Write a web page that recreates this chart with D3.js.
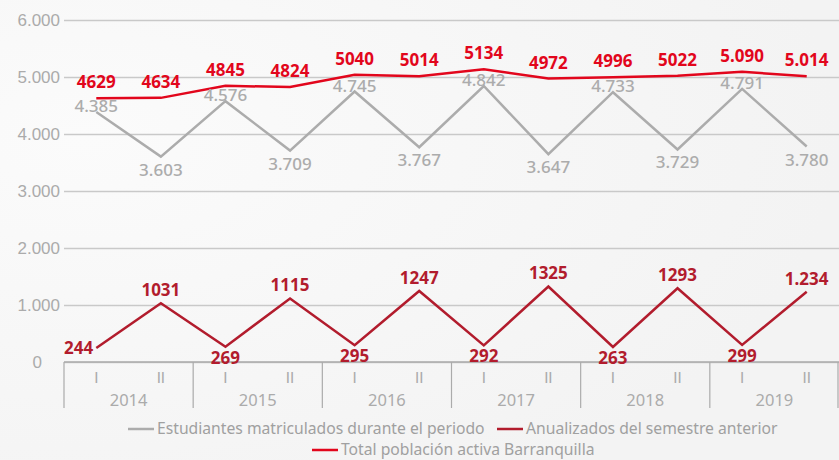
<!DOCTYPE html>
<html>
<head>
<meta charset="utf-8">
<script src="https://cdn.jsdelivr.net/npm/d3@7"></script>
<style>
  body { margin: 0; background: #f4f4f4; }
  svg { display: block; font-family: "Noto Sans", sans-serif; }
</style>
</head>
<body>
<svg class="chart" width="839" height="460"></svg>
<script>
const years = ['2014', '2015', '2016', '2017', '2018', '2019'];
const semesters = ['I', 'II'];
const totalValues = [4629, 4634, 4845, 4824, 5040, 5014, 5134, 4972, 4996, 5022, 5090, 5014];
const totalLabels = ['4629', '4634', '4845', '4824', '5040', '5014', '5134', '4972', '4996', '5022', '5.090', '5.014'];
const enrolledValues = [4385, 3603, 4576, 3709, 4745, 3767, 4842, 3647, 4733, 3729, 4791, 3780];
const annualValues = [244, 1031, 269, 1115, 295, 1247, 292, 1325, 263, 1293, 299, 1234];
const annualLabels = ['244', '1031', '269', '1115', '295', '1247', '292', '1325', '263', '1293', '299', '1.234'];
const yTicks = [0, 1000, 2000, 3000, 4000, 5000, 6000];

const width = 839;
const height = 460;
const margin = {left: 64, right: 0, top: 20, bottom: 98};

const colors = {
  total: '#e2061c',
  enrolled: '#acacac',
  annual: '#b21c2d',
  axis: '#ababab',
  grid: '#c9c9c9'
};

const periods = [];
years.forEach(y => semesters.forEach(s => periods.push(y + '-' + s)));

const svg = d3.select('svg.chart');

// background with soft light gradient
const defs = svg.append('defs');
const grad = defs.append('radialGradient').attr('id', 'bg').attr('cx', '0.1').attr('cy', '0.3').attr('r', '0.9');
grad.append('stop').attr('offset', '0%').attr('stop-color', '#fbfbfb');
grad.append('stop').attr('offset', '100%').attr('stop-color', '#f3f3f3');
svg.append('rect').attr('width', width).attr('height', height).attr('fill', 'url(#bg)');

const x = d3.scaleBand()
            .domain(periods)
            .range([margin.left, width - margin.right]);

const xYear = d3.scaleBand()
                .domain(years)
                .range([margin.left, width - margin.right]);

const y = d3.scaleLinear()
            .domain([0, 6000])
            .range([height - margin.bottom, margin.top]);

const fmt = d3.format(',');
const esFmt = v => fmt(v).replace(/,/g, '.');

// gridlines + y labels
const yAxis = svg.append('g')
  .attr('transform', `translate(${margin.left},0)`)
  .call(d3.axisLeft(y).tickValues(yTicks).tickSize(-(width - margin.left - margin.right)).tickPadding(4).tickFormat(esFmt));
yAxis.select('.domain').remove();
yAxis.selectAll('.tick line').attr('stroke', colors.grid).attr('stroke-width', 1.3);
yAxis.selectAll('.tick text')
  .attr('fill', colors.axis)
  .style('font-size', '17px');
yAxis.selectAll('.tick').filter(d => d === 0).select('text').attr('dx', '-18');

// x axis: baseline, year separators, semester and year labels
const xg = svg.append('g');
const base = y(0);
xg.append('line')
  .attr('x1', margin.left).attr('x2', width)
  .attr('y1', base).attr('y2', base)
  .attr('stroke', colors.axis).attr('stroke-width', 1.3);

xg.selectAll('line.sep')
  .data(years.concat(['end']))
  .enter()
  .append('line')
  .classed('sep', true)
  .attr('x1', (d, i) => i < years.length ? xYear(d) : width - 1)
  .attr('x2', (d, i) => i < years.length ? xYear(d) : width - 1)
  .attr('y1', base)
  .attr('y2', base + 46)
  .attr('stroke', colors.axis)
  .attr('stroke-width', 1.2);

xg.selectAll('text.sem')
  .data(periods)
  .enter()
  .append('text')
  .classed('sem', true)
  .attr('x', d => x(d) + x.bandwidth() / 2)
  .attr('y', base + 21)
  .attr('text-anchor', 'middle')
  .attr('fill', colors.axis)
  .style('font-family', 'Lato, sans-serif')
  .style('font-size', '15px')
  .text(d => d.split('-')[1]);

xg.selectAll('text.year')
  .data(years)
  .enter()
  .append('text')
  .classed('year', true)
  .attr('x', d => xYear(d) + xYear.bandwidth() / 2)
  .attr('y', base + 44)
  .attr('text-anchor', 'middle')
  .attr('fill', colors.axis)
  .style('font-size', '16.5px')
  .text(d => d);

const cx = i => x(periods[i]) + x.bandwidth() / 2;

const line = d3.line()
  .x((d, i) => cx(i))
  .y(d => y(d));

svg.append('path').datum(enrolledValues)
  .attr('d', line).attr('fill', 'none')
  .attr('stroke', colors.enrolled).attr('stroke-width', 2.5);

svg.append('path').datum(annualValues)
  .attr('d', line).attr('fill', 'none')
  .attr('stroke', colors.annual).attr('stroke-width', 2.5);

svg.append('path').datum(totalValues)
  .attr('d', line).attr('fill', 'none')
  .attr('stroke', colors.total).attr('stroke-width', 2.5);

// data labels
svg.selectAll('text.enr')
  .data(enrolledValues)
  .enter()
  .append('text')
  .classed('enr', true)
  .attr('x', (d, i) => cx(i))
  .attr('y', (d, i) => y(d) + (i % 2 === 0 ? 0 : 19))
  .attr('text-anchor', 'middle')
  .attr('fill', colors.enrolled)
  .style('font-size', '17px')
  .style('font-weight', 500)
  .text(d => esFmt(d));

svg.selectAll('text.tot')
  .data(totalValues)
  .enter()
  .append('text')
  .classed('tot', true)
  .attr('x', (d, i) => cx(i))
  .attr('y', d => y(d) - 10)
  .attr('text-anchor', 'middle')
  .attr('fill', colors.total)
  .style('font-size', '17px')
  .style('font-weight', 700)
  .text((d, i) => totalLabels[i]);

svg.selectAll('text.ann')
  .data(annualValues)
  .enter()
  .append('text')
  .classed('ann', true)
  .attr('x', (d, i) => i === 0 ? cx(i) - 3 : cx(i))
  .attr('y', (d, i) => i === 0 ? y(d) + 6 : (i % 2 === 0 ? y(d) + 17 : y(d) - 7))
  .attr('text-anchor', (d, i) => i === 0 ? 'end' : 'middle')
  .attr('fill', colors.annual)
  .style('font-size', '17px')
  .style('font-weight', 700)
  .text((d, i) => annualLabels[i]);

// legend
const legendItems = [
  {label: 'Estudiantes matriculados durante el periodo', color: colors.enrolled, x: 128, y: 429},
  {label: 'Anualizados del semestre anterior', color: colors.annual, x: 497, y: 429},
  {label: 'Total población activa Barranquilla', color: colors.total, x: 312, y: 450}
];
const lg = svg.selectAll('g.legend')
  .data(legendItems)
  .enter()
  .append('g')
  .classed('legend', true)
  .attr('transform', d => `translate(${d.x},${d.y})`);
lg.append('line')
  .attr('x1', 0).attr('x2', 26).attr('y1', 0).attr('y2', 0)
  .attr('stroke', d => d.color).attr('stroke-width', 2.5);
lg.append('text')
  .attr('x', 29).attr('y', 5)
  .attr('fill', '#a0a0a0')
  .style('font-size', '15.7px')
  .text(d => d.label);
</script>
</body>
</html>
